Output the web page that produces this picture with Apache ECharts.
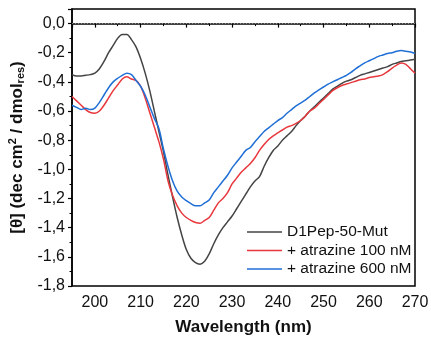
<!DOCTYPE html>
<html>
<head>
<meta charset="utf-8">
<script src="https://cdn.jsdelivr.net/npm/echarts@6/dist/echarts.min.js"></script>
<style>html,body{margin:0;padding:0;background:#fff;}#c{width:431px;height:339px;}</style>
</head>
<body>
<div id="c"></div>
<script>
const wavelengths = [];
for (let w = 195; w <= 270; w++) wavelengths.push(w);

const seriesNames = ["D1Pep-50-Mut", "+ atrazine 100 nM", "+ atrazine 600 nM"];

const mutValues = [
 -0.35,-0.36,-0.36,-0.355,-0.35,-0.34,-0.31,-0.26,-0.20,-0.15,
 -0.10,-0.075,-0.075,-0.11,-0.16,-0.24,-0.34,-0.46,-0.60,-0.74,
 -0.88,-1.04,-1.19,-1.33,-1.45,-1.55,-1.61,-1.64,-1.65,-1.63,
 -1.58,-1.51,-1.45,-1.40,-1.36,-1.32,-1.27,-1.22,-1.17,-1.12,
 -1.08,-1.05,-0.98,-0.92,-0.87,-0.84,-0.80,-0.77,-0.74,-0.70,
 -0.665,-0.635,-0.60,-0.57,-0.54,-0.51,-0.48,-0.45,-0.43,-0.41,
 -0.395,-0.385,-0.37,-0.355,-0.345,-0.335,-0.325,-0.315,-0.305,-0.295,
 -0.28,-0.27,-0.26,-0.255,-0.25,-0.245
];
const atz100Values = [
 -0.50,-0.53,-0.56,-0.59,-0.61,-0.615,-0.60,-0.56,-0.51,-0.46,
 -0.42,-0.38,-0.365,-0.38,-0.39,-0.43,-0.51,-0.61,-0.71,-0.81,
 -0.93,-1.08,-1.18,-1.25,-1.30,-1.33,-1.35,-1.365,-1.37,-1.35,
 -1.33,-1.28,-1.23,-1.20,-1.16,-1.10,-1.06,-1.02,-0.99,-0.96,
 -0.92,-0.87,-0.83,-0.795,-0.77,-0.75,-0.73,-0.71,-0.70,-0.685,
 -0.665,-0.635,-0.60,-0.58,-0.55,-0.52,-0.49,-0.46,-0.44,-0.425,
 -0.415,-0.405,-0.395,-0.385,-0.38,-0.37,-0.365,-0.36,-0.35,-0.33,
 -0.305,-0.285,-0.27,-0.28,-0.31,-0.34
];
const atz600Values = [
 -0.56,-0.575,-0.59,-0.58,-0.59,-0.58,-0.54,-0.49,-0.44,-0.40,
 -0.375,-0.355,-0.34,-0.35,-0.39,-0.43,-0.49,-0.57,-0.65,-0.72,
 -0.86,-0.98,-1.08,-1.15,-1.19,-1.215,-1.235,-1.25,-1.25,-1.23,
 -1.21,-1.16,-1.12,-1.08,-1.04,-0.99,-0.95,-0.91,-0.87,-0.85,
 -0.81,-0.775,-0.74,-0.715,-0.69,-0.665,-0.645,-0.615,-0.59,-0.565,
 -0.545,-0.525,-0.50,-0.475,-0.455,-0.435,-0.415,-0.40,-0.385,-0.37,
 -0.355,-0.335,-0.31,-0.29,-0.27,-0.255,-0.24,-0.225,-0.215,-0.205,
 -0.20,-0.19,-0.185,-0.19,-0.195,-0.205
];
const zeroLine = [[195, 0], [270, 0]];

const colors = ["#444444", "#e8383d", "#1f6fd6"];
const FONT = "Liberation Sans";

function pairs(vals) { return wavelengths.map((w, i) => [w, vals[i]]); }

const chart = echarts.init(document.getElementById('c'), null, {renderer: 'canvas'});
const axisCommon = {
  axisLine: {show: true, lineStyle: {color: '#000', width: 1.5}},
  axisTick: {show: true, inside: false, length: 4, lineStyle: {color: '#000', width: 1.2}},
  minorTick: {show: true, splitNumber: 2, length: 2.5, lineStyle: {color: '#000', width: 1}},
  splitLine: {show: false},
  axisLabel: {color: '#111', fontSize: 16, fontFamily: FONT}
};
chart.setOption({
  animation: false,
  color: colors,
  textStyle: {fontFamily: FONT},
  grid: {left: 72, right: 16, top: 9, bottom: 53, show: true, borderColor: '#000', borderWidth: 1.5,
         containLabel: false, outerBoundsMode: 'none'},
  legend: {
    orient: 'vertical', left: 242, top: 219,
    icon: 'rect', itemWidth: 35, itemHeight: 1.6, itemGap: 2.5,
    textStyle: {fontSize: 15.5, color: '#111', fontFamily: FONT},
    data: seriesNames
  },
  xAxis: Object.assign({}, axisCommon, {
    type: 'value', min: 195, max: 270, splitNumber: 8,
    axisLabel: Object.assign({}, axisCommon.axisLabel, {margin: 9,
      formatter: v => (v % 10 === 0 ? String(v) : '')}),
    name: 'Wavelength (nm)', nameLocation: 'middle', nameGap: 33,
    nameTextStyle: {fontSize: 17, fontWeight: 'bold', color: '#111', fontFamily: FONT}
  }),
  yAxis: Object.assign({}, axisCommon, {
    type: 'value', min: -1.8, max: 0.1, interval: 0.2,
    axisLabel: Object.assign({}, axisCommon.axisLabel, {margin: 7, showMaxLabel: false,
      formatter: v => (v > 0.05 ? '' : v.toFixed(1).replace('.', ',').replace('-0,0', '0,0'))}),
    name: '{b|[θ] (dec cm}{sup|2}{b| / dmol}{sub|res}{b|)}',
    nameLocation: 'middle', nameGap: 41, nameRotate: 90,
    nameTextStyle: {
      color: '#111', fontFamily: FONT,
      rich: {
        b: {fontSize: 17, fontWeight: 'bold', color: '#111', fontFamily: FONT},
        sup: {fontSize: 11, fontWeight: 'bold', color: '#111', fontFamily: FONT, padding: [0, 0, 9, 0]},
        sub: {fontSize: 11, fontWeight: 'bold', color: '#111', fontFamily: FONT, padding: [7, 0, 0, 0]}
      }
    }
  }),
  series: [
    {name: 'zero', type: 'line', data: zeroLine, showSymbol: false, symbol: 'none', silent: true,
     z: 1, lineStyle: {type: [1, 2], color: '#9a9a9a', width: 1}, itemStyle: {color: '#9a9a9a'}},
    {name: seriesNames[0], type: 'line', data: pairs(mutValues), showSymbol: false, symbol: 'none',
     smooth: 0.3, lineStyle: {width: 1.5, color: colors[0]}, itemStyle: {color: colors[0]}},
    {name: seriesNames[1], type: 'line', data: pairs(atz100Values), showSymbol: false, symbol: 'none',
     smooth: 0.3, lineStyle: {width: 1.5, color: colors[1]}, itemStyle: {color: colors[1]}},
    {name: seriesNames[2], type: 'line', data: pairs(atz600Values), showSymbol: false, symbol: 'none',
     smooth: 0.3, lineStyle: {width: 1.5, color: colors[2]}, itemStyle: {color: colors[2]}}
  ]
});
</script>
</body>
</html>
